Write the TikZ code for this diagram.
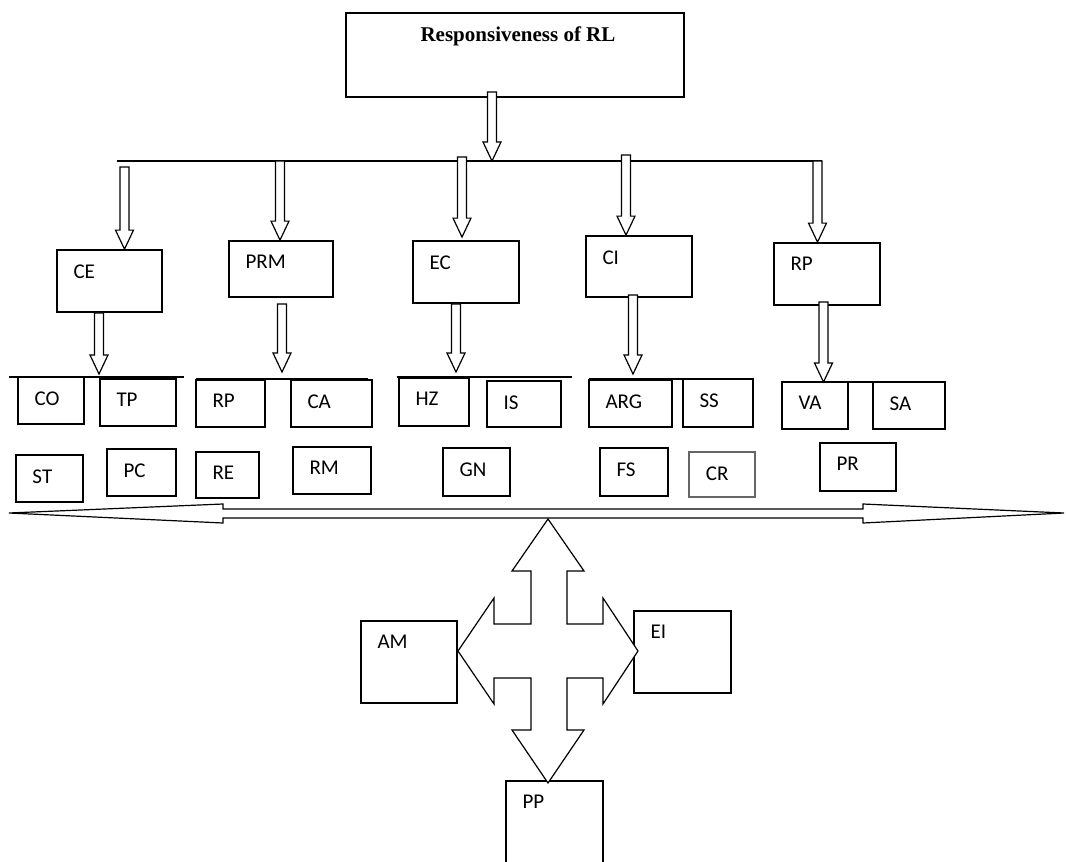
\documentclass[tikz,border=0pt]{standalone}
\usepackage{fontspec}
\setmainfont{Carlito}
\newfontfamily\titlefont{Liberation Serif}
\usetikzlibrary{fit,calc}

\tikzset{
  box/.style={draw, line width=0.9pt, inner sep=0pt},
  lbl/.style={anchor=north west, inner sep=0pt, xshift=8.5pt, yshift=-7.5pt,
    font=\fontsize{10.5}{12}\selectfont},
  ttl/.style={anchor=north, inner sep=0pt, xshift=1.5pt, yshift=-7pt,
    font=\titlefont\bfseries\fontsize{10.5}{12}\selectfont},
  fat/.style={draw, line width=0.6pt, fill=white},
  busline/.style={line width=0.7pt}
}

% hollow arrow pointing down: x, from, to
\newcommand{\fatdown}[3]{%
  \draw[fat] let \p3=(#1,0), \p1=(#2), \p2=(#3) in
    (\x3-2.25pt,\y1) -- (\x3-2.25pt,\y2+9.5pt) -- (\x3-4.5pt,\y2+9.5pt)
    -- (\x3,\y2) -- (\x3+4.5pt,\y2+9.5pt) -- (\x3+2.25pt,\y2+9.5pt)
    -- (\x3+2.25pt,\y1) -- cycle;}

\begin{document}
\begin{tikzpicture}[x=0.5pt,y=-0.5pt]
\useasboundingbox (0,0) rectangle (1066,862);
\clip (0,0) rectangle (1066,862);
% Title
\node[box, fit={(346,13) (684,97)}, label={[ttl]north:Responsiveness of RL}] (title) {};
% Bus line
\coordinate (busL) at (117,161);
\coordinate (busR) at (822,161);
\draw[busline] (busL) -- (busR);
% Second row
\node[box, fit={(57,250) (162,312)}, label={[lbl]north west:CE}] (ce) {};
\node[box, fit={(229,241) (333,297)}, label={[lbl]north west:PRM}] (prm) {};
\node[box, fit={(413,241) (519,303)}, label={[lbl]north west:EC}] (ec) {};
\node[box, fit={(586,236) (692,297)}, label={[lbl]north west:CI}] (ci) {};
\node[box, fit={(774,243) (880,305)}, label={[lbl]north west:RP}] (rp) {};
% Arrows title -> bus -> row
\fatdown{492}{[yshift=3pt]title.south}{busL}
\fatdown{124.5}{[yshift=-3pt]busL}{ce.north}
\fatdown{280}{busL}{prm.north}
\fatdown{462}{[yshift=2pt]busL}{[yshift=1.5pt]ec.north}
\fatdown{626}{[yshift=3pt]busL}{ci.north}
\fatdown{817.5}{busL}{rp.north}
% Group lines
\coordinate (g1L) at (9,377);   \coordinate (g1R) at (184,377);
\coordinate (g2L) at (196,379); \coordinate (g2R) at (368,379);
\coordinate (g3L) at (397,377); \coordinate (g3R) at (572,377);
\coordinate (g4L) at (589,379); \coordinate (g4R) at (749,379);
\coordinate (g5L) at (781,382); \coordinate (g5R) at (945,382);
\draw[busline] (g1L) -- (g1R);
\draw[busline] (g2L) -- (g2R);
\draw[busline] (g3L) -- (g3R);
\draw[busline] (g4L) -- (g4R);
\draw[busline] (g5L) -- (g5R);
% Group CE
\node[box, fit={(18,377) (84,424)}, label={[lbl]north west:CO}] (co) {};
\node[box, fit={(100,379) (176,426)}, label={[lbl]north west:TP}] (tp) {};
\node[box, fit={(16,455) (83,502)}, label={[lbl]north west:ST}] (st) {};
\node[box, fit={(107,449) (176,496)}, label={[lbl]north west:PC}] (pc) {};
% Group PRM
\node[box, fit={(196,380) (265,427)}, label={[lbl]north west:RP}] (rpb) {};
\node[box, fit={(291,380) (372,427)}, label={[lbl]north west:CA}] (ca) {};
\node[box, fit={(196,452) (259,498)}, label={[lbl]north west:RE}] (re) {};
\node[box, fit={(293,447) (371,494)}, label={[lbl]north west:RM}] (rm) {};
% Group EC
\node[box, fit={(399,378) (469,426)}, label={[lbl]north west:HZ}] (hz) {};
\node[box, fit={(487,381) (561,427)}, label={[lbl]north west:IS}] (is) {};
\node[box, fit={(443,448) (510,496)}, label={[lbl]north west:GN}] (gn) {};
% Group CI
\node[box, fit={(589,380) (672,427)}, label={[lbl]north west:ARG}] (arg) {};
\node[box, fit={(683,379) (753,427)}, label={[lbl]north west:SS}] (ss) {};
\node[box, fit={(600,448) (668,496)}, label={[lbl]north west:FS}] (fs) {};
\node[box, draw=black!60, line width=0.6pt, fit={(689,452) (755,497)}, label={[lbl]north west:CR}] (cr) {};
% Group RP
\node[box, fit={(782,382) (848,429)}, label={[lbl]north west:VA}] (va) {};
\node[box, fit={(873,382) (945,429)}, label={[lbl]north west:SA}] (sa) {};
\node[box, fit={(820,443) (896,491)}, label={[lbl]north west:PR}] (pr) {};
% Arrows row -> groups
\fatdown{99}{ce.south}{[yshift=1.5pt]g1L}
\fatdown{282}{[yshift=-3pt]prm.south}{[yshift=3.5pt]g2L}
\fatdown{456}{ec.south}{[yshift=2.5pt]g3L}
\fatdown{633}{[yshift=1.5pt]ci.south}{[yshift=2.5pt]g4L}
\fatdown{823.5}{[yshift=2pt]rp.south}{g5L}
% Double arrow
\draw[fat] (9,513) -- (223,504) -- (223,509) -- (863,509) -- (863,504) -- (1064,513)
  -- (863,523) -- (863,518) -- (223,518) -- (223,523) -- cycle;
% Bottom boxes
\node[box, fit={(361,621) (457,703)}, label={[lbl]north west:AM}] (am) {};
\node[box, fit={(634,611) (731,693)}, label={[lbl]north west:EI}] (ei) {};
\node[box, fit={(506,781) (603,863)}, label={[lbl]north west:PP}] (pp) {};
% Four-way arrow
\draw[fat] (548,519) -- (584,571) -- (567,571) -- (567,624) -- (603,624) -- (603,598)
  -- (638,651) -- (603,704) -- (603,678) -- (567,678) -- (567,730) -- (584,730)
  -- (548,783) -- (512,730) -- (531,730) -- (531,678) -- (494,678) -- (494,704)
  -- (458,651) -- (494,598) -- (494,624) -- (531,624) -- (531,571) -- (512,571) -- cycle;
\end{tikzpicture}
\end{document}
